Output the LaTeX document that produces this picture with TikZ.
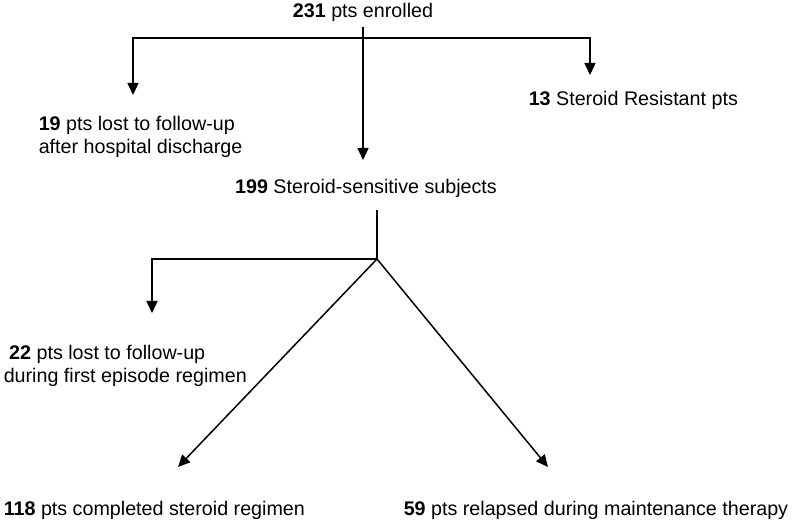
\documentclass[tikz,border=0pt]{standalone}
\usepackage{fontspec}
\setmainfont{Liberation Sans}
\usetikzlibrary{arrows.meta}

\begin{document}
\begin{tikzpicture}
 [x=0.5pt, y=-0.5pt,
  line width=0.75pt,
  lbl/.style={inner sep=0pt, align=left, font=\fontsize{9.85pt}{11.2pt}\selectfont},
  arr/.style={-{Triangle[length=6pt,width=5.5pt]}}]

  \useasboundingbox (0,0) rectangle (792,522);

  \node[lbl] (enrolled) at (363,12) {\textbf{231} pts enrolled};
  \node[lbl, anchor=west] (lostA) at (38,137) {\textbf{19} pts lost to follow-up\\after hospital discharge};
  \node[lbl, anchor=west] (resist) at (528,100) {\textbf{13} Steroid Resistant pts};
  \node[lbl] (sens) at (366,188) {\textbf{199} Steroid-sensitive subjects};
  \node[lbl, anchor=west] (lostB) at (3,366) {\ \textbf{22} pts lost to follow-up\\during first episode regimen};
  \node[lbl, anchor=west] (done) at (3,510) {\textbf{118} pts completed steroid regimen};
  \node[lbl, anchor=west] (relapse) at (403,510) {\textbf{59} pts relapsed during maintenance therapy};

  \coordinate (stem) at (363,27);
  \coordinate (split) at (363,38);
  \coordinate (tipM) at (363,160);
  \coordinate (tipA) at (133,95);
  \coordinate (tipR) at (590,75);
  \coordinate (stub) at (377,210);
  \coordinate (fork) at (377,259);
  \coordinate (tipB) at (152,313);
  \coordinate (tipC) at (178,467);
  \coordinate (tipD) at (548,467);

  \draw[arr] (stem) -- (tipM);
  \draw[arr] (split) -| (tipA);
  \draw[arr] (split) -| (tipR);

  \draw (stub) -- (fork);
  \draw[arr] (fork) -| (tipB);
  \draw[arr] (fork) -- (tipC);
  \draw[arr] (fork) -- (tipD);
\end{tikzpicture}
\end{document}
